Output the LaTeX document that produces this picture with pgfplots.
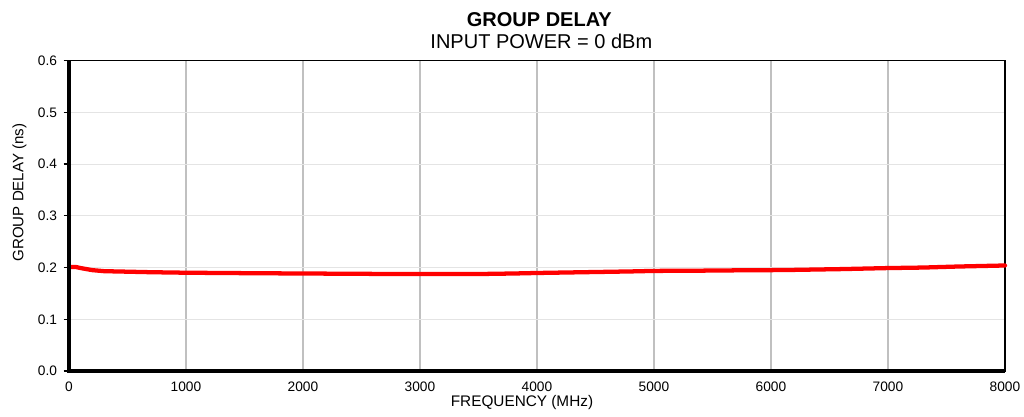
\documentclass[border=0pt]{standalone}
\usepackage{pgfplots}
\pgfplotsset{compat=1.18}
\usepackage{fontspec}
\setmainfont{Liberation Sans}
\begin{document}
\begin{tikzpicture}[x=1pt,y=1pt]
\useasboundingbox (0,0) rectangle (768,312.75);
\begin{axis}[
  at={(51.75pt,34.5pt)}, anchor=south west,
  scale only axis, width=702pt, height=232.75pt,
  xmin=0, xmax=8000, ymin=0, ymax=0.6,
  xtick={0,1000,...,8000}, ytick={0,0.1,...,0.6},
  /pgf/number format/assume math mode=true,
  xticklabel style={/pgf/number format/1000 sep={}, font=\fontsize{10.3}{12}\selectfont, yshift=-1pt},
  yticklabel style={/pgf/number format/fixed, /pgf/number format/fixed zerofill, /pgf/number format/precision=1, font=\fontsize{10.3}{12}\selectfont, xshift=-1.5pt},
  xtick style={draw=none},
  ytick style={black, line width=1pt},
  ytick pos=left, xtick pos=bottom,
  tick align=outside, major tick length=4pt,
  grid=major,
  x grid style={color={rgb,255:red,192;green,192;blue,192}, line width=1.5pt},
  y grid style={color={rgb,255:red,228;green,228;blue,228}, line width=0.75pt},
  axis line style={black, line width=1.1pt},
  clip=false,
]
\addplot[red, line width=3.2pt, line join=round, line cap=round] coordinates {
(0,0.201) (60,0.201) (100,0.199) (150,0.197) (200,0.195) (300,0.193) (500,0.192)
(700,0.191) (1000,0.190) (1300,0.1895) (1600,0.189) (2000,0.1885) (2400,0.188)
(2800,0.1875) (3200,0.1877) (3500,0.1875) (3800,0.1885) (4000,0.1895) (4400,0.191)
(4800,0.1925) (5000,0.1935) (5400,0.194) (5800,0.1948) (6000,0.195) (6200,0.1955)
(6600,0.197) (7000,0.199) (7300,0.2) (7600,0.202) (8000,0.204)
};
\draw[black, line width=2.4pt] (rel axis cs:0,1) -- (rel axis cs:0,0) -- (rel axis cs:1,0);
\end{axis}
\node[font=\bfseries\fontsize{15}{17}\selectfont] at (404.5,298) {GROUP DELAY};
\node[font=\fontsize{15}{17}\selectfont] at (406,281.5) {INPUT POWER = 0 dBm};
\node[font=\fontsize{11.5}{13}\selectfont] at (391.5,11) {FREQUENCY (MHz)};
\node[font=\fontsize{11.3}{13}\selectfont, rotate=90] at (14.6,168.4) {GROUP DELAY (ns)};
\end{tikzpicture}
\end{document}
